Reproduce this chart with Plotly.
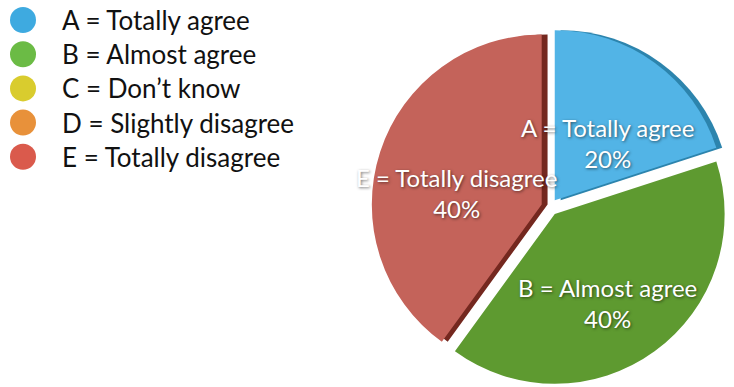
import math
import plotly.graph_objects as go

# Survey answers and their shares
codes = ["A", "B", "C", "D", "E"]
answers = ["Totally agree", "Almost agree", "Don\u2019t know", "Slightly disagree", "Totally disagree"]
shares = [20, 40, 0, 0, 40]

slice_colors = ["#52b4e6", "#5e9a30", "#d8cd34", "#e8913c", "#c4635a"]
side_colors = ["#2c84ad", "rgba(0,0,0,0)", "rgba(0,0,0,0)", "rgba(0,0,0,0)", "#74281f"]
dot_colors = ["#3eaae0", "#6bbb45", "#d9cc2e", "#e8913a", "#da5a4c"]

W, H = 734, 387
PULL = 0.05
DOM_X = [0.506, 0.992]
DOM_Y = [0.0, 0.93]
SIDE_DX = 0.008          # offset of the darker "side" copy of the pie
FONT = "Lato, 'Open Sans', sans-serif"

labels = [f"{c} = {a}" for c, a in zip(codes, answers)]

fig = go.Figure()

# darker copy slightly to the right gives the slices a thin side face
fig.add_trace(go.Pie(
    labels=labels, values=shares,
    marker=dict(colors=side_colors, line=dict(width=0)),
    pull=[PULL] * len(shares), sort=False, direction="clockwise", rotation=0,
    textinfo="none", hoverinfo="skip", showlegend=False,
    domain=dict(x=[DOM_X[0] + SIDE_DX, min(1.0, DOM_X[1] + SIDE_DX)], y=DOM_Y),
))

fig.add_trace(go.Pie(
    labels=labels,
    values=shares,
    marker=dict(colors=slice_colors, line=dict(width=0)),
    pull=[PULL] * len(shares),
    sort=False,
    direction="clockwise",
    rotation=0,
    textinfo="none",
    hoverinfo="label+percent",
    showlegend=False,
    domain=dict(x=DOM_X, y=DOM_Y),
))

# Legend column drawn as big round dots with captions
row0, row_gap, dot_x, text_x = 20, 34.2, 23, 60
fig.add_trace(go.Scatter(
    x=[dot_x] * len(codes),
    y=[row0 + i * row_gap for i in range(len(codes))],
    mode="markers",
    marker=dict(size=26, color=dot_colors, line=dict(width=0)),
    hoverinfo="skip",
    showlegend=False,
))

annotations = []
for i, lab in enumerate(labels):
    annotations.append(dict(
        x=text_x, y=row0 + i * row_gap, xref="x", yref="y",
        text=lab, showarrow=False, xanchor="left", yanchor="middle",
        font=dict(family=FONT, size=26, color="#111111"),
    ))

# Slice captions placed along each slice's bisector
cx = (DOM_X[0] + DOM_X[1]) / 2 * W
cy = H - (DOM_Y[0] + DOM_Y[1]) / 2 * H
r = min((DOM_X[1] - DOM_X[0]) * W, (DOM_Y[1] - DOM_Y[0]) * H) / (2 + 2 * PULL)
total = sum(shares)
start = 0.0
for lab, v in zip(labels, shares):
    frac = v / total
    if v > 0:
        mid = (start + frac / 2) * 2 * math.pi
        d = r * (PULL + 0.53)
        annotations.append(dict(
            x=cx + d * math.sin(mid), y=cy - d * math.cos(mid) + 16,
            xref="x", yref="y",
            text=f"{lab}<br>{v}%", showarrow=False,
            xanchor="center", yanchor="middle",
            font=dict(family=FONT, size=24, color="white",
                      shadow="1px 1px 3px rgba(0,0,0,0.55)"),
        ))
    start += frac

fig.update_layout(
    width=W, height=H,
    margin=dict(l=0, r=0, t=0, b=0),
    paper_bgcolor="white",
    plot_bgcolor="rgba(0,0,0,0)",
    xaxis=dict(range=[0, W], visible=False, fixedrange=True),
    yaxis=dict(range=[H, 0], visible=False, fixedrange=True),
    annotations=annotations,
)

fig.write_html("out.html")
